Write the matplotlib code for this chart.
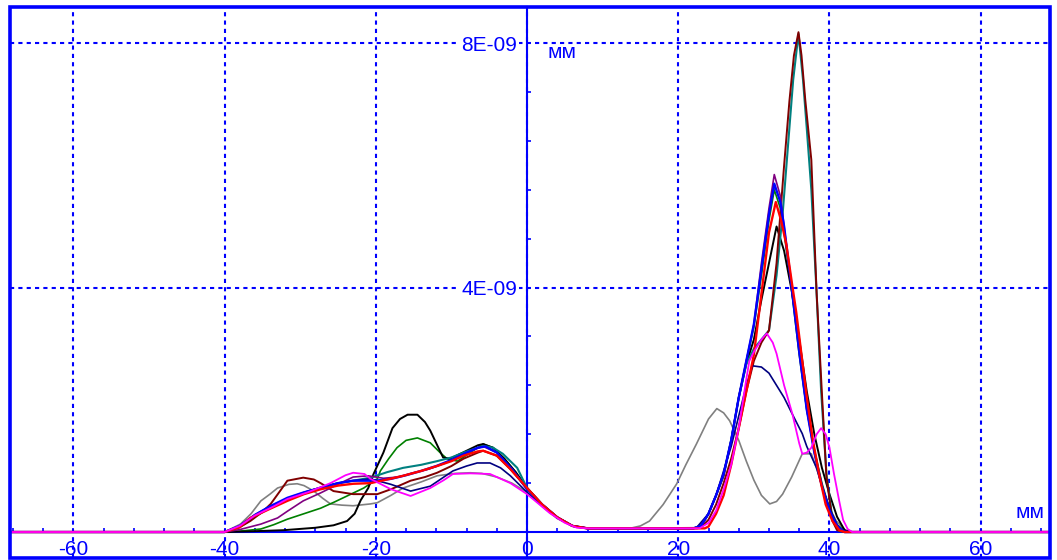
import matplotlib
matplotlib.use("Agg")
import matplotlib.pyplot as plt
from matplotlib.ticker import FixedLocator, MultipleLocator, FuncFormatter
from matplotlib.patches import Rectangle
import numpy as np

plt.rcParams['font.family'] = ['Liberation Sans', 'DejaVu Sans']
plt.rcParams['axes.unicode_minus'] = False

# units: x in mm, y in 1E-09
black_x = [-69, -40, -37, -32.2, -28, -25.6, -23.8, -22.8, -22, -21, -20.3, -19, -17.8, -16.8, -15.8, -14.5, -13.5, -12.8, -11.8, -11.1,
           -10.2, -8.5, -6.5, -5.8, -4.5, -3, -1.5, 0, 2, 4, 6, 8, 22, 23, 24, 25, 26, 27, 28, 29, 30, 31, 32, 33, 34, 35, 36, 37,
           38, 39, 40, 41, 42, 43, 69]
black_y = [0, 0, 0.01, 0.03, 0.07, 0.11, 0.18, 0.3, 0.52, 0.72, 0.95, 1.3, 1.7, 1.85, 1.92, 1.92, 1.8, 1.66, 1.4, 1.22,
           1.2, 1.3, 1.42, 1.44, 1.38, 1.2, 0.98, 0.72, 0.45, 0.24, 0.1, 0.06, 0.06, 0.1, 0.3, 0.6, 0.92, 1.5, 2.2, 2.75, 3.15, 3.8, 4.4, 5.0, 4.6,
           3.95, 3.15, 2.3, 1.6, 1.05, 0.62, 0.25, 0.03, 0, 0]

green_x = [-69, -40, -37.5, -35.2, -33.5, -31.7, -29.5, -27.3, -25.5, -23.8, -21.6, -19.8, -19.4, -18.3, -17.2, -16, -14.5, -12.8,
           -11.5, -10.6, -9.2, -7.5, -5.8, -4.5, -3, -1.5, 0, 2, 4, 6, 8, 22, 23, 24, 25, 26, 27, 28, 29, 30, 31, 32, 32.7, 33.5,
           34, 35, 36, 37, 38, 39, 40, 41, 42, 43, 69]
green_y = [0, 0, 0.02, 0.05, 0.12, 0.21, 0.3, 0.39, 0.49, 0.59, 0.72, 0.87, 1.0, 1.2, 1.38, 1.5, 1.54, 1.46,
           1.3, 1.2, 1.16, 1.3, 1.44, 1.38, 1.2, 0.98, 0.72, 0.45, 0.24, 0.1, 0.06, 0.06, 0.1, 0.3, 0.6, 0.95, 1.5, 2.2, 2.8, 3.35, 4.2, 5.1, 5.6, 5.3,
           4.9, 3.95, 2.9, 2.0, 1.35, 0.8, 0.38, 0.12, 0.02, 0, 0]

maroon_x = [-69, -40, -38, -36.6, -35, -33.9, -32.5, -31.7, -29.6, -28.2, -27.3, -25.6, -23, -19.8, -18, -15.4, -13.5, -11.9,
            -10, -8.4, -6.5, -5.8, -4, -2.2, 0, 2, 4, 6, 8, 22.5, 23, 24, 25, 26, 27, 28, 29, 30, 31, 32, 33, 34, 34.7, 35.3,
            35.9, 36.3, 36.8, 37.6, 38.3, 39, 39.6, 40.4, 41, 42, 69]
maroon_y = [0, 0, 0.08, 0.18, 0.33, 0.46, 0.7, 0.84, 0.89, 0.86, 0.8, 0.67, 0.62, 0.62, 0.7, 0.84, 0.9, 0.97,
            1.08, 1.2, 1.3, 1.33, 1.25, 1.03, 0.72, 0.45, 0.24, 0.1, 0.06, 0.06, 0.08, 0.2, 0.45, 0.8, 1.2, 1.7, 2.3, 2.8, 3.1, 3.3, 4.4, 6.0, 7.05, 7.8,
            8.18, 7.8, 7.07, 6.09, 3.91, 2.27, 0.9, 0.18, 0.03, 0, 0]

gray_x = [-69, -40, -37.9, -36.5, -35.2, -34, -33, -31.5, -30.4, -29.5, -28.2, -27, -26, -24.5, -23, -20.7, -19.8, -18, -16.4,
          -14, -11.9, -9.5, -7.5, -6, -4, -2, 0, 2, 4, 6, 8, 13.6, 15, 16.2, 18, 19.8, 21, 22.4, 24, 25.1, 26, 26.8, 28, 29, 30,
          31, 32.1, 33, 33.8, 35, 36.4, 37.6, 38.4, 39.1, 40, 40.9, 42.2, 43, 69]
gray_y = [0, 0, 0.13, 0.3, 0.51, 0.62, 0.72, 0.78, 0.79, 0.76, 0.67, 0.55, 0.46, 0.44, 0.43, 0.46, 0.48, 0.6, 0.72,
          0.82, 0.92, 0.96, 0.97, 0.96, 0.9, 0.8, 0.65, 0.42, 0.22, 0.1, 0.06, 0.06, 0.1, 0.18, 0.45, 0.79, 1.1, 1.44, 1.85, 2.02, 1.95, 1.82, 1.5, 1.16, 0.85,
          0.6, 0.46, 0.5, 0.62, 0.9, 1.28, 1.28, 1.0, 0.72, 0.4, 0.18, 0.02, 0, 0]

purple_x = [-69, -40, -38, -35.2, -33, -31.7, -29.6, -27.3, -24.7, -23, -21, -19, -17, -15, -13, -11, -9, -7, -5.8, -4, -2,
            0, 2, 4, 6, 8, 22, 23, 24, 25, 26, 27, 28, 29, 30, 31, 32, 32.7, 33.5, 34, 35, 36, 37, 38, 39, 40, 41, 42, 69]
purple_y = [0, 0, 0.04, 0.13, 0.23, 0.34, 0.51, 0.64, 0.8, 0.9, 0.92, 0.88, 0.9, 0.97, 1.03, 1.12, 1.22, 1.35, 1.4, 1.3, 1.03,
            0.7, 0.45, 0.24, 0.1, 0.06, 0.06, 0.1, 0.3, 0.6, 0.95, 1.5, 2.2, 2.8, 3.4, 4.4, 5.3, 5.85, 5.5, 5.0, 4.0, 2.95, 2.0, 1.3, 0.75, 0.35, 0.1, 0, 0]

blue_x = [-69, -40, -38, -36, -34, -31.7, -29.5, -27.3, -25, -23, -20, -18, -16, -14, -12, -10, -8, -6.5, -5.5, -4, -2,
          0, 2, 4, 6, 8, 22, 23, 24, 25, 26, 27, 28, 29, 30, 31, 32, 32.7, 33.5, 34, 35, 36, 37, 38, 39, 40, 41, 42, 69]
blue_y = [0, 0, 0.1, 0.28, 0.42, 0.56, 0.65, 0.72, 0.8, 0.84, 0.84, 0.87, 0.93, 1.0, 1.08, 1.18, 1.3, 1.38, 1.4, 1.3, 1.03,
          0.7, 0.45, 0.24, 0.1, 0.06, 0.06, 0.1, 0.3, 0.6, 0.95, 1.5, 2.2, 2.8, 3.4, 4.3, 5.2, 5.7, 5.4, 5.0, 4.0, 2.95, 2.0, 1.3, 0.75, 0.35, 0.1, 0, 0]

navy_x = [-69, -40, -38, -36, -34, -31.7, -29, -27, -25, -23, -20.7, -18, -15.4, -12.8, -11, -9.8, -8, -6.6, -4.9, -3.5, -2.2,
          0, 2, 4, 6, 8, 22.4, 24, 25, 26, 27, 28, 29, 29.8, 31, 32, 33, 34, 35, 36.4, 37, 38.3, 39, 40, 41, 41.7, 43, 69]
navy_y = [0, 0, 0.1, 0.28, 0.42, 0.55, 0.67, 0.74, 0.8, 0.84, 0.87, 0.78, 0.67, 0.75, 0.9, 1.0, 1.08, 1.13, 1.13, 1.05, 0.92,
          0.65, 0.43, 0.23, 0.1, 0.06, 0.07, 0.3, 0.6, 1.0, 1.4, 1.9, 2.4, 2.72, 2.7, 2.6, 2.4, 2.2, 1.95, 1.61, 1.4, 1.05, 0.75, 0.39, 0.12, 0.02, 0, 0]

teal_x = [-69, -40, -38, -36, -34, -31.7, -29, -27, -25, -23, -20.7, -18.5, -16.4, -14, -11.9, -10, -8.4, -6.5, -5.8, -4.5, -3.2,
          -1.3, 0, 2, 4, 6, 8, 22, 23, 24, 25, 26, 27, 28, 29, 30, 31, 32, 33, 33.8, 34.5, 35.2, 35.9, 36.5, 37, 37.6, 38.3,
          38.9, 39.6, 40.4, 41.2, 42, 69]
teal_y = [0, 0, 0.08, 0.25, 0.4, 0.53, 0.66, 0.74, 0.8, 0.84, 0.89, 0.98, 1.05, 1.1, 1.16, 1.22, 1.3, 1.38, 1.41, 1.38, 1.28,
          1.05, 0.72, 0.45, 0.24, 0.1, 0.06, 0.06, 0.1, 0.3, 0.6, 0.95, 1.5, 2.2, 2.75, 3.0, 3.15, 3.3, 4.2, 5.2, 6.3, 7.4, 8.15, 7.4, 6.6, 5.6, 3.9,
          2.3, 0.95, 0.2, 0.02, 0, 0]

red_x = [-69, -40, -38, -36.6, -34, -31.7, -29.5, -27.3, -25, -23, -20.7, -18.5, -16.4, -14, -11.9, -10, -8.4, -6.5, -5.8, -4,
         -2.2, 0, 2, 4, 6, 8, 23.5, 24, 25, 26, 27, 28, 29, 30, 31, 32, 32.9, 33.6, 34.3, 35, 35.6, 36.9, 37.8, 38.7, 39.5, 40.4,
         41.3, 42, 69]
red_y = [0, 0, 0.08, 0.23, 0.38, 0.51, 0.62, 0.7, 0.76, 0.79, 0.8, 0.86, 0.92, 1.0, 1.08, 1.16, 1.25, 1.32, 1.33, 1.25,
         1.03, 0.72, 0.45, 0.24, 0.1, 0.06, 0.06, 0.09, 0.3, 0.6, 1.1, 1.7, 2.3, 2.9, 3.9, 4.9, 5.4, 5.1, 4.7, 4.1, 3.6, 2.3, 1.5, 0.9, 0.45, 0.18,
         0.03, 0, 0]

magenta_x = [-69, -40, -38, -36, -33.5, -31.7, -29, -26, -24, -23, -21.5, -20.7, -18, -15.4, -12.8, -11, -9.8, -7.5, -4.9, -2.2,
             0, 3, 5, 6.6, 8, 22.8, 24, 25, 26, 27, 28, 29, 29.4, 30, 31, 31.7, 32.5, 33, 34, 35.1, 36, 36.4, 37, 37.6, 38.3,
             38.9, 39.5, 40, 40.6, 41.3, 41.8, 42.4, 43, 69]
magenta_y = [0, 0, 0.1, 0.27, 0.42, 0.54, 0.65, 0.8, 0.93, 0.97, 0.95, 0.87, 0.7, 0.59, 0.72, 0.85, 0.95, 0.96, 0.95, 0.8,
             0.62, 0.31, 0.15, 0.07, 0.06, 0.06, 0.15, 0.35, 0.7, 1.1, 1.7, 2.5, 2.8, 2.95, 3.15, 3.25, 3.1, 2.92, 2.4, 1.93, 1.45, 1.28, 1.3, 1.38, 1.6,
             1.7, 1.6, 1.38, 0.95, 0.5, 0.2, 0.05, 0, 0]

curves = [
    (gray_x, gray_y, '#808080', 1.2),
    (green_x, green_y, '#008000', 1.2),
    (black_x, black_y, '#000000', 1.4),
    (teal_x, teal_y, '#008080', 1.5),
    (maroon_x, maroon_y, '#800000', 1.4),
    (navy_x, navy_y, '#000080', 1.2),
    (purple_x, purple_y, '#800080', 1.2),
    (blue_x, blue_y, '#0000FF', 1.7),
    (red_x, red_y, '#FF0000', 1.7),
    (magenta_x, magenta_y, '#FF00FF', 1.3),
]

x_ticks = [-60, -40, -20, 0, 20, 40, 60]
y_ticks = [4e-9, 8e-9]

BLUE = '#0000FF'

fig = plt.figure(figsize=(10.57, 5.6), dpi=100)
ax = fig.add_axes([9.5 / 1057, 2 / 560, 1040 / 1057, 551.5 / 560])

for xs, ys, c, lw in curves:
    ax.plot(xs, np.array(ys) * 1e-9, color=c, lw=lw, zorder=3)

ax.set_xlim(-68.45, 69.1)
ax.set_ylim(-0.425e-9, 8.6e-9)

for s in ['top', 'right']:
    ax.spines[s].set_visible(False)
ax.spines['left'].set_position(('data', 0))
ax.spines['bottom'].set_position(('data', 0))
for s in ['left', 'bottom']:
    ax.spines[s].set_color(BLUE)
    ax.spines[s].set_linewidth(1.5)
    ax.spines[s].set_zorder(2)

ax.xaxis.set_major_locator(FixedLocator(x_ticks))
ax.xaxis.set_minor_locator(MultipleLocator(4))
ax.yaxis.set_major_locator(FixedLocator(y_ticks))
ax.yaxis.set_minor_locator(MultipleLocator(0.8e-9))
ax.yaxis.set_major_formatter(FuncFormatter(lambda v, p: f"{v:.0E}"))

ax.tick_params(which='both', direction='in', colors=BLUE, labelcolor=BLUE, width=1.2)
ax.tick_params(which='major', length=3, labelsize=15)
ax.tick_params(which='minor', length=3)
ax.tick_params(axis='x', pad=6)
ax.tick_params(axis='y', pad=7)
for lab in ax.get_yticklabels():
    lab.set_bbox(dict(facecolor='white', edgecolor='none', pad=1))

ax.grid(True, which='major', color=BLUE, linestyle=(0, (2, 2)), linewidth=1.5, zorder=1)

ax.text(2.65, 7.76e-9, 'мм', color=BLUE, fontsize=15, va='baseline', ha='left')
ax.text(64.6, 0.23e-9, 'мм', color=BLUE, fontsize=15, va='baseline', ha='left')

frame = Rectangle((0, 0), 1, 1, transform=ax.transAxes, fill=False, edgecolor=BLUE,
                  linewidth=2.6, clip_on=False, zorder=10)
ax.add_patch(frame)

fig.savefig('out.png', dpi=100)
